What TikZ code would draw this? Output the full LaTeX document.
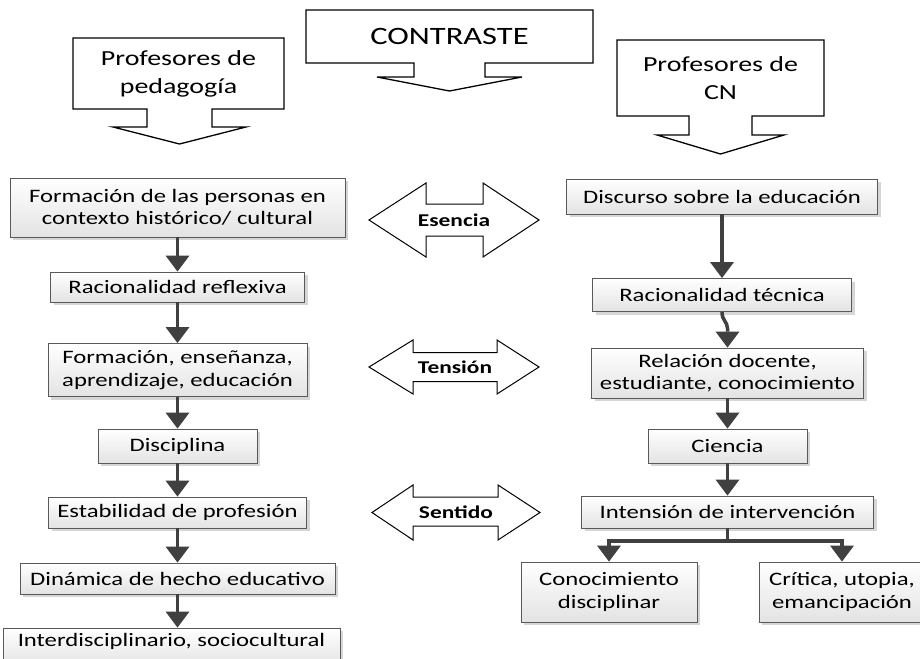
\documentclass[tikz,border=0pt]{standalone}
\usepackage{fontspec}
\setmainfont{Carlito}[FakeStretch=1.30]
\usetikzlibrary{arrows.meta,shadows,calc}

\tikzset{
  flowbox/.style={draw=black!65, line width=0.9pt, top color=white, bottom color=black!11,
    inner sep=0pt, align=center, font=\fontsize{19}{22.5}\selectfont,
    drop shadow={shadow xshift=3pt, shadow yshift=-3pt, fill=black!35, opacity=0.45}},
  flow/.style={draw=black!75, line width=3.5pt,
    -{Triangle[width=24pt,length=16pt,line width=0pt]}},
  callout/.style={draw=black, line width=1.3pt, fill=white, line join=miter},
  calltext/.style={align=center, inner sep=0pt, font=\fontsize{21.5}{28}\selectfont},
  dblarrow/.style={draw=black, line width=1pt, fill=white, line join=miter},
  arrowlabel/.style={inner sep=0pt, font=\bfseries\fontsize{18}{20}\selectfont},
}

\begin{document}
\begin{tikzpicture}[x=1pt,y=-1pt]
  \fill[white] (0,0) rectangle (920,658);
  \useasboundingbox (0,0) rectangle (920,658);

  % --- header callouts ---
  \draw[callout] (73,38) -- (284,38) -- (284,109) -- (212,109) -- (212,127) -- (246,127)
    -- (179.5,144) -- (113,127) -- (147,127) -- (147,109) -- (73,109) -- cycle;
  \node[calltext] (cped) at (178.5,74) {Profesores de\\pedagogía};

  \draw[callout] (306,10) -- (593,10) -- (593,63) -- (485,63) -- (485,77) -- (522,77)
    -- (449.5,91) -- (377,77) -- (414,77) -- (414,63) -- (306,63) -- cycle;
  \node[calltext, font=\fontsize{25}{28}\selectfont] (ccon) at (449.5,36) {CONTRASTE};

  \draw[callout] (617,40) -- (824,40) -- (824,116) -- (752,116) -- (752,135) -- (784,135)
    -- (720.5,154) -- (657,135) -- (689,135) -- (689,116) -- (617,116) -- cycle;
  \node[calltext] (ccn) at (720.5,78) {Profesores de\\CN};

  % --- double arrows between the columns ---
  \draw[dblarrow] (369,220) -- (426,183) -- (426,204) -- (483,204) -- (483,183) -- (539,220)
    -- (483,257) -- (483,236) -- (426,236) -- (426,257) -- cycle;
  \node[arrowlabel] (esencia) at (454,220) {Esencia};

  \draw[dblarrow] (369,367) -- (413,340) -- (413,352.5) -- (497,352.5) -- (497,340) -- (539,367)
    -- (497,394) -- (497,381.5) -- (413,381.5) -- (413,394) -- cycle;
  \node[arrowlabel] (tension) at (455,367) {Tensión};

  \draw[dblarrow] (372,512.5) -- (413,485) -- (413,497) -- (498,497) -- (498,485) -- (540,512.5)
    -- (498,540) -- (498,526) -- (413,526) -- (413,540) -- cycle;
  \node[arrowlabel] (sentido) at (456,512.5) {Sentido};

  % --- left column ---
  \node[flowbox, minimum width=335pt, minimum height=59pt] (L1) at (177.5,207.5)
    {Formación de las personas en\\contexto histórico/ cultural};
  \node[flowbox, minimum width=254pt, minimum height=30pt] (L2) at (177.5,287)
    {Racionalidad reflexiva};
  \node[flowbox, minimum width=259pt, minimum height=53pt] (L3) at (177.5,370)
    {Formación, enseñanza,\\aprendizaje, educación};
  \node[flowbox, minimum width=159pt, minimum height=34pt] (L4) at (177.5,446)
    {Disciplina};
  \node[flowbox, minimum width=258pt, minimum height=31pt] (L5) at (177.5,512.5)
    {Estabilidad de profesión};
  \node[flowbox, minimum width=315pt, minimum height=31pt] (L6) at (177.5,578.5)
    {Dinámica de hecho educativo};
  \node[flowbox, minimum width=337pt, text height=18pt, text depth=22pt] (L7) at (171.5,648)
    {Interdisciplinario, sociocultural};

  \draw[flow] (L1.south) -- (L1.south |- L2.north);
  \draw[flow] (L2.south) -- (L2.south |- L3.north);
  \draw[flow] (L3.south) -- (L3.south |- L4.north);
  \draw[flow] (L4.south) -- (L4.south |- L5.north);
  \draw[flow] (L5.south) -- (L5.south |- L6.north);
  \draw[flow] (L6.south) -- (L6.south |- L7.north);

  % --- right column ---
  \node[flowbox, minimum width=311pt, minimum height=35pt] (R1) at (722,196.5)
    {Discurso sobre la educación};
  \node[flowbox, minimum width=259pt, minimum height=33pt] (R2) at (722,295)
    {Racionalidad técnica};
  \node[flowbox, minimum width=272pt, minimum height=50pt] (R3) at (727.5,373)
    {Relación docente,\\estudiante, conocimiento};
  \node[flowbox, minimum width=159pt, minimum height=34pt] (R4) at (727.5,446)
    {Ciencia};
  \node[flowbox, minimum width=292pt, minimum height=32pt] (R5) at (727.5,512)
    {Intensión de intervención};
  \node[flowbox, minimum width=176pt, minimum height=60pt] (R6) at (609,592)
    {Conocimiento\\disciplinar};
  \node[flowbox, minimum width=166pt, minimum height=60pt] (R7) at (842,592)
    {Crítica, utopia,\\emancipación};

  \draw[flow] (R1.south) -- (R1.south |- R2.north);
  \draw[flow] (R2.south) .. controls +(0,9) and +(0,-7) .. ($(R3.north)+(0,-19)$) -- (R3.north);
  \draw[flow] (R3.south) -- (R3.south |- R4.north);
  \draw[flow] (R4.south) -- (R4.south |- R5.north);
  \draw[flow] (R5.south) -- ++(0,12.7) -| (R6.north);
  \draw[flow] (R5.south) -- ++(0,12.7) -| (R7.north);
\end{tikzpicture}
\end{document}
